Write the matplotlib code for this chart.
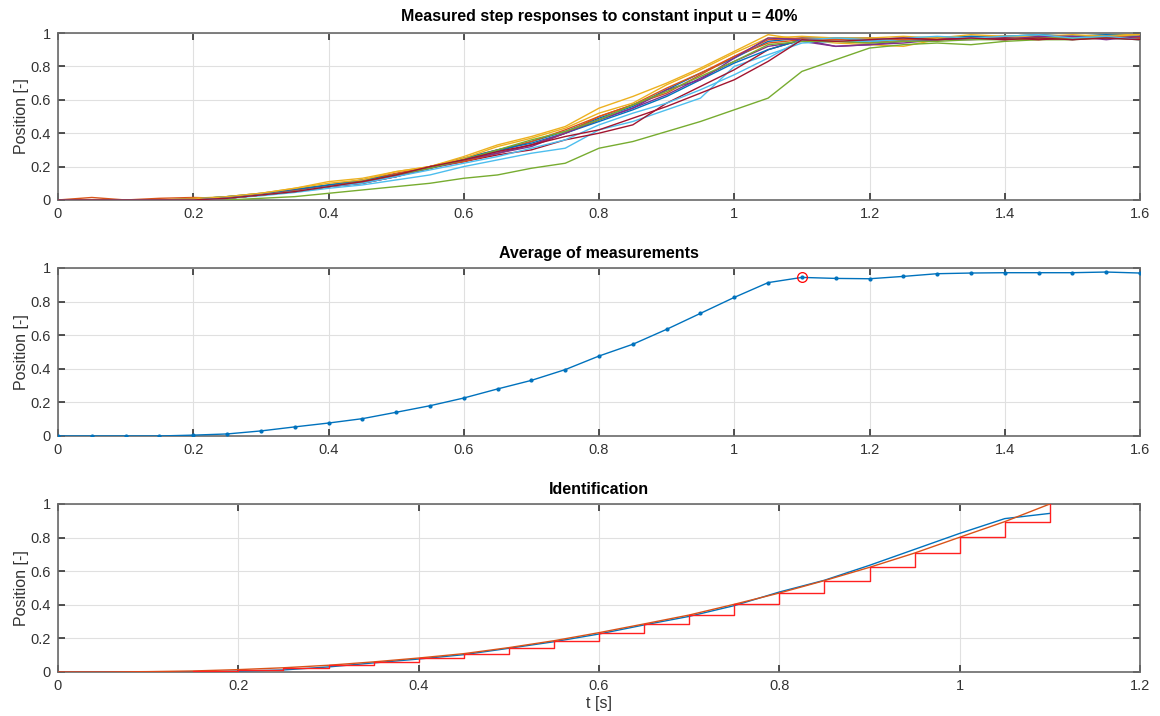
import matplotlib
matplotlib.use('Agg')
import matplotlib.pyplot as plt
import numpy as np
from matplotlib.ticker import FormatStrFormatter

plt.rcParams['font.family'] = ['Liberation Sans', 'DejaVu Sans']

# time grid of the measurements (sample time 0.05 s)
t = [0, 0.05, 0.1, 0.15, 0.2, 0.25, 0.3, 0.35, 0.4, 0.45, 0.5, 0.55, 0.6, 0.65, 0.7, 0.75, 0.8,
     0.85, 0.9, 0.95, 1.0, 1.05, 1.1, 1.15, 1.2, 1.25, 1.3, 1.35, 1.4, 1.45, 1.5, 1.55, 1.6]

# measured step responses
meas = [
    [0, 0, 0, 0, 0.005, 0.02, 0.04, 0.065, 0.09, 0.115, 0.155, 0.19, 0.245, 0.29, 0.35, 0.41, 0.49,
     0.56, 0.66, 0.76, 0.85, 0.95, 0.97, 0.97, 0.95, 0.96, 0.97, 0.98, 0.97, 0.98, 0.97, 0.98, 0.97],
    [0, 0.015, 0, 0.01, 0.015, 0.01, 0.03, 0.06, 0.085, 0.12, 0.16, 0.2, 0.25, 0.30, 0.35, 0.42, 0.50,
     0.57, 0.67, 0.76, 0.86, 0.94, 0.96, 0.95, 0.94, 0.96, 0.96, 0.97, 0.97, 0.96, 0.98, 0.97, 0.98],
    [0, 0, 0, 0, 0.01, 0.02, 0.04, 0.07, 0.11, 0.13, 0.17, 0.2, 0.26, 0.33, 0.38, 0.44, 0.55,
     0.62, 0.70, 0.79, 0.89, 0.99, 0.96, 0.94, 0.93, 0.92, 0.96, 0.97, 0.98, 0.99, 0.98, 0.99, 0.99],
    [0, 0, 0, 0, 0, 0.01, 0.03, 0.06, 0.08, 0.1, 0.14, 0.19, 0.23, 0.28, 0.32, 0.40, 0.48,
     0.55, 0.63, 0.73, 0.83, 0.92, 0.95, 0.92, 0.93, 0.95, 0.96, 0.96, 0.97, 0.98, 0.96, 0.98, 0.97],
    [0, 0, 0, 0, 0, 0, 0.01, 0.02, 0.04, 0.06, 0.08, 0.1, 0.13, 0.15, 0.19, 0.22, 0.31,
     0.35, 0.41, 0.47, 0.54, 0.61, 0.77, 0.84, 0.91, 0.93, 0.94, 0.93, 0.95, 0.96, 0.96, 0.97, 0.97],
    [0, 0, 0, 0, 0, 0.01, 0.025, 0.045, 0.07, 0.09, 0.12, 0.15, 0.2, 0.24, 0.28, 0.31, 0.42,
     0.47, 0.54, 0.61, 0.80, 0.87, 0.94, 0.95, 0.95, 0.96, 0.96, 0.97, 0.98, 0.97, 0.98, 0.97, 0.96],
    [0, 0, 0, 0, 0, 0.01, 0.03, 0.055, 0.08, 0.1, 0.14, 0.2, 0.23, 0.27, 0.3, 0.36, 0.40,
     0.45, 0.58, 0.68, 0.78, 0.90, 0.96, 0.97, 0.96, 0.97, 0.96, 0.97, 0.97, 0.96, 0.97, 0.97, 0.97],
    [0, 0, 0, 0, 0.005, 0.02, 0.035, 0.06, 0.09, 0.12, 0.15, 0.19, 0.25, 0.3, 0.34, 0.40, 0.47,
     0.54, 0.62, 0.72, 0.82, 0.90, 0.96, 0.97, 0.97, 0.96, 0.97, 0.98, 0.98, 0.99, 0.98, 0.99, 0.98],
    [0, 0, 0, 0, 0.005, 0.01, 0.03, 0.055, 0.08, 0.11, 0.15, 0.2, 0.23, 0.28, 0.33, 0.4, 0.5,
     0.57, 0.64, 0.75, 0.86, 0.96, 0.97, 0.96, 0.97, 0.96, 0.97, 0.97, 0.98, 0.97, 0.97, 0.98, 0.97],
    [0, 0, 0, 0, 0.005, 0.02, 0.04, 0.07, 0.1, 0.12, 0.17, 0.2, 0.25, 0.32, 0.37, 0.43, 0.52,
     0.58, 0.69, 0.78, 0.88, 0.97, 0.98, 0.97, 0.97, 0.98, 0.97, 0.99, 0.98, 0.98, 0.99, 0.98, 0.99],
    [0, 0, 0, 0, 0, 0.01, 0.03, 0.05, 0.08, 0.11, 0.14, 0.19, 0.24, 0.28, 0.33, 0.40, 0.48,
     0.55, 0.66, 0.72, 0.85, 0.97, 0.96, 0.92, 0.93, 0.94, 0.96, 0.97, 0.96, 0.98, 0.98, 0.96, 0.98],
    [0, 0, 0, 0, 0, 0.01, 0.03, 0.05, 0.08, 0.11, 0.15, 0.19, 0.24, 0.3, 0.36, 0.41, 0.48,
     0.57, 0.65, 0.74, 0.83, 0.93, 0.95, 0.95, 0.94, 0.95, 0.95, 0.96, 0.96, 0.97, 0.97, 0.97, 0.96],
    [0, 0, 0, 0, 0, 0.01, 0.03, 0.05, 0.08, 0.1, 0.14, 0.18, 0.22, 0.26, 0.31, 0.36, 0.45,
     0.52, 0.58, 0.66, 0.75, 0.85, 0.96, 0.97, 0.96, 0.97, 0.98, 0.97, 0.98, 0.99, 0.97, 0.98, 0.96],
    [0, 0, 0, 0, 0, 0.01, 0.03, 0.05, 0.08, 0.11, 0.15, 0.2, 0.24, 0.29, 0.33, 0.38, 0.42,
     0.49, 0.56, 0.64, 0.72, 0.83, 0.96, 0.95, 0.96, 0.97, 0.96, 0.97, 0.96, 0.97, 0.96, 0.97, 0.96],
]

# average of the measurements
avg = [0, 0, 0, 0, 0.005, 0.012, 0.03, 0.054, 0.077, 0.103, 0.141, 0.18, 0.226, 0.28, 0.331, 0.395, 0.476,
       0.546, 0.635, 0.73, 0.825, 0.913, 0.944, 0.938, 0.936, 0.95, 0.966, 0.97, 0.972, 0.972, 0.972, 0.976, 0.97]
t_peak = 1.1
y_peak = 0.944

# identified model, evaluated on the same grid up to 1.1 s
t_id = t[:23]
avg_id = avg[:23]
model = [0, 0, 0.002, 0.006, 0.014, 0.025, 0.04, 0.06, 0.083, 0.109, 0.145, 0.186, 0.234, 0.286, 0.339, 0.403,
         0.47, 0.544, 0.623, 0.708, 0.802, 0.895, 1.0]

colors = ['#0072BD', '#D95319', '#EDB120', '#7E2F8E', '#77AC30', '#4DBEEE', '#A2142F']
axcol = '#333333'


def style(ax, xmax):
    ax.set_xlim(0, xmax)
    ax.set_ylim(0, 1)
    ax.set_xticks(np.arange(0, xmax + 0.01, 0.2))
    ax.set_yticks(np.arange(0, 1.01, 0.2))
    ax.xaxis.set_major_formatter(FormatStrFormatter('%g'))
    ax.yaxis.set_major_formatter(FormatStrFormatter('%g'))
    ax.tick_params(direction='in', top=True, right=True, length=5, width=1.2,
                   colors=axcol, labelsize=10.5, pad=5)
    ax.grid(True, color='#e0e0e0', lw=0.8)
    ax.set_axisbelow(True)
    for s in ax.spines.values():
        s.set_color('#6a6a6a')
        s.set_linewidth(1.2)
    ax.set_ylabel('Position [-]', fontsize=11.5, color=axcol, labelpad=1)


fig = plt.figure(figsize=(11.6, 7.16), dpi=100)

# 1
ax1 = fig.add_axes([0.05, 0.7207, 0.9328, 0.2332])
for i, y in enumerate(meas):
    ax1.plot(t, y, color=colors[i % 7], lw=1.0, zorder=3)
style(ax1, 1.6)
ax1.set_title('Measured step responses to constant input u = 40%', fontsize=11.5,
              fontweight='bold', pad=9)

# 2
ax2 = fig.add_axes([0.05, 0.3911, 0.9328, 0.2346])
ax2.plot(t, avg, color='#0072BD', lw=1.0, marker='.', markersize=4, zorder=3)
ax2.plot([t_peak], [y_peak], 'o', mfc='none', mec='red', markersize=7, mew=0.9, zorder=4)
style(ax2, 1.6)
ax2.set_title('Average of measurements', fontsize=11.5, fontweight='bold', pad=7)

# 3
ax3 = fig.add_axes([0.05, 0.0615, 0.9328, 0.2346])
ax3.plot(t_id, avg_id, color='#0072BD', lw=1.0, zorder=3)
ax3.plot(t_id, model, color='#D95319', lw=1.0, zorder=3)
ax3.step(t_id, model, where='post', color='#FF2020', lw=1.0, zorder=3)
style(ax3, 1.2)
ax3.set_title('Identification', fontsize=11.5, fontweight='bold', pad=7)
ax3.set_xlabel('t [s]', fontsize=11.5, color=axcol, labelpad=2)

fig.savefig('out.png', dpi=100)
